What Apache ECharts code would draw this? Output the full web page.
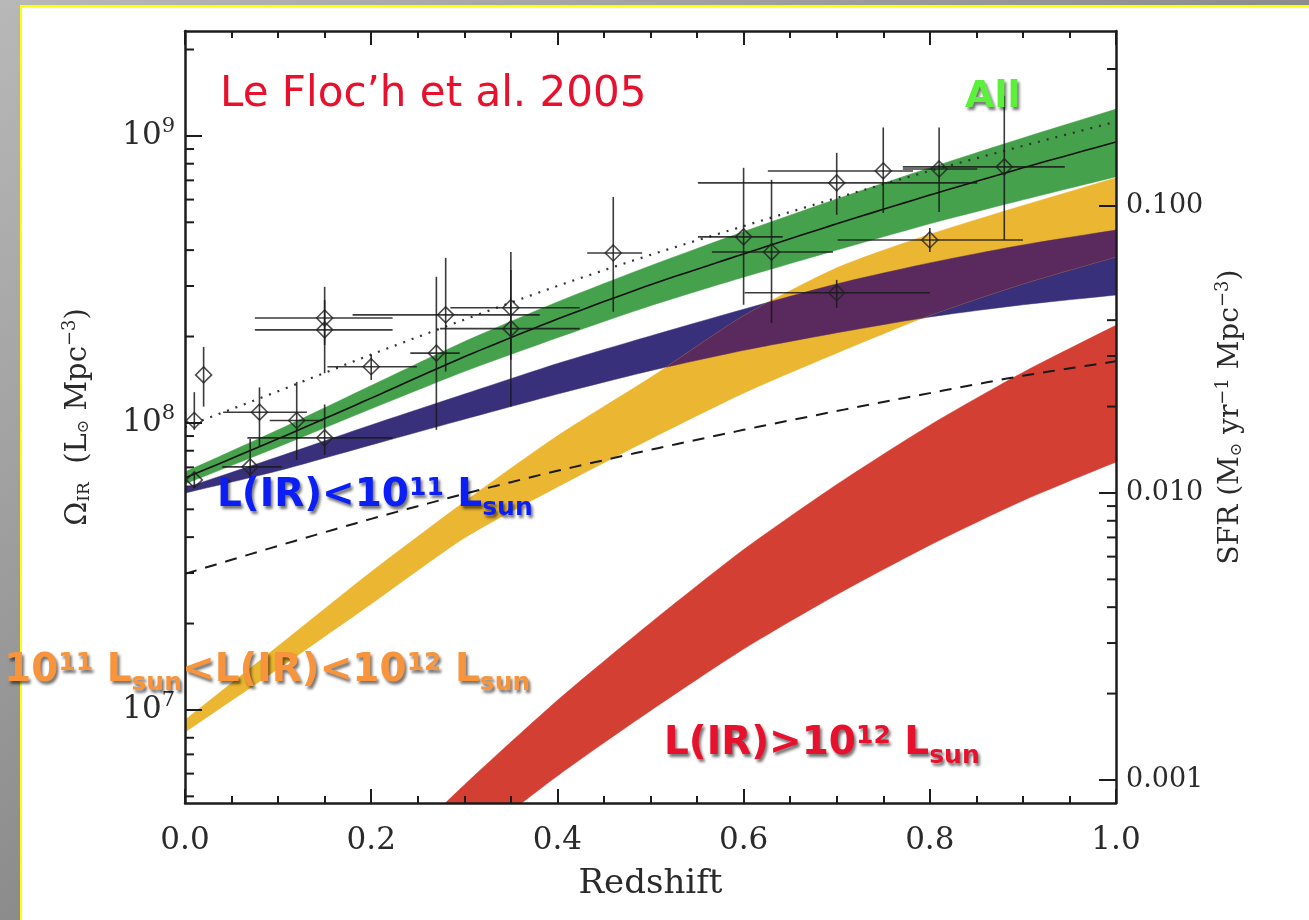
<!DOCTYPE html>
<html>
<head>
<meta charset="utf-8">
<script src="https://cdn.jsdelivr.net/npm/echarts@6/dist/echarts.min.js"></script>
<style>
html,body{margin:0;padding:0;width:1309px;height:920px;overflow:hidden;}
body{background:linear-gradient(to bottom right,#b8b8b8 0%,#8c8c8c 50%,#606060 100%);position:relative;}
#panel{position:absolute;left:20px;top:5px;width:1300px;height:930px;background:#fff;border-left:2px solid #ffff00;border-top:2px solid #ffff00;}
#chart{position:absolute;left:0;top:0;width:1309px;height:920px;}
</style>
</head>
<body>
<div id="panel"></div>
<div id="chart"></div>
<script>
// ---------------- data ----------------
const zGrid = [0, 0.1, 0.2, 0.3, 0.4, 0.5, 0.6, 0.7, 0.8, 0.9, 1.0];
// "All" band and median line
const allLo  = [6.13e7, 8.25e7, 1.12e8, 1.51e8, 1.98e8, 2.56e8, 3.22e8, 4.00e8, 4.94e8, 5.99e8, 7.20e8];
const allHi  = [6.75e7, 9.46e7, 1.35e8, 1.92e8, 2.64e8, 3.53e8, 4.64e8, 6.03e8, 7.74e8, 9.84e8, 1.24e9];
const allMid = [6.43e7, 8.80e7, 1.22e8, 1.70e8, 2.30e8, 3.03e8, 3.88e8, 4.94e8, 6.22e8, 7.74e8, 9.53e8];
const dottedLine = [9.68e7, 1.29e8, 1.73e8, 2.29e8, 3.00e8, 3.85e8, 4.85e8, 6.08e8, 7.55e8, 9.23e8, 1.12e9];
const dashedLine = [2.98e7, 3.73e7, 4.63e7, 5.66e7, 6.81e7, 8.06e7, 9.46e7, 1.10e8, 1.27e8, 1.46e8, 1.64e8];
// L(IR) < 1e11
const lowLo = [5.70e7, 6.81e7, 8.38e7, 1.03e8, 1.26e8, 1.52e8, 1.79e8, 2.06e8, 2.34e8, 2.58e8, 2.79e8];
const lowHi = [5.94e7, 7.62e7, 9.84e7, 1.26e8, 1.61e8, 2.01e8, 2.49e8, 3.05e8, 3.61e8, 4.17e8, 4.70e8];
// 1e11 < L(IR) < 1e12
const lirgLo = [8.37e6, 1.39e7, 2.34e7, 3.97e7, 5.98e7, 8.79e7, 1.27e8, 1.75e8, 2.37e8, 3.05e8, 3.79e8];
const lirgHi = [9.23e6, 1.67e7, 3.03e7, 5.31e7, 9.02e7, 1.44e8, 2.36e8, 3.47e8, 4.54e8, 5.72e8, 7.14e8];
// L(IR) > 1e12
const zRed = [0.2, 0.3, 0.4, 0.5, 0.6, 0.7, 0.8, 0.9, 1.0];
const ulirgLo = [1.79e6, 3.30e6, 5.89e6, 9.94e6, 1.63e7, 2.52e7, 3.75e7, 5.36e7, 7.31e7];
const ulirgHi = [2.66e6, 5.48e6, 1.08e7, 2.01e7, 3.62e7, 6.10e7, 9.82e7, 1.50e8, 2.19e8];
// measurements with error bars
const obsZ   = [0.01, 0.02, 0.01, 0.07, 0.08, 0.12, 0.15, 0.15, 0.15, 0.20, 0.27, 0.28, 0.35, 0.35, 0.46, 0.60, 0.63, 0.70, 0.70, 0.75, 0.80, 0.81, 0.88];
const obsV   = [1.02e8, 1.47e8, 6.33e7, 7.03e7, 1.09e8, 1.02e8, 2.32e8, 2.11e8, 8.87e7, 1.57e8, 1.75e8, 2.38e8, 2.52e8, 2.13e8, 3.91e8, 4.45e8, 3.94e8, 6.86e8, 2.84e8, 7.55e8, 4.34e8, 7.67e8, 7.80e8];
const obsVLo = [9.46e7, 1.14e8, 5.93e7, 5.84e7, 8.25e7, 7.43e7, 1.87e8, 1.49e8, 7.74e7, 1.41e8, 9.46e7, 1.51e8, 1.66e8, 1.14e8, 2.44e8, 2.58e8, 2.23e8, 5.31e8, 2.52e8, 5.39e8, 3.94e8, 5.43e8, 4.34e8];
const obsVHi = [1.28e8, 1.84e8, 6.74e7, 8.79e7, 1.33e8, 1.39e8, 2.98e8, 2.68e8, 1.16e8, 1.73e8, 3.23e8, 3.76e8, 3.94e8, 3.41e8, 6.13e8, 7.74e8, 7.03e8, 8.73e8, 3.15e8, 1.07e9, 4.78e8, 1.07e9, 1.38e9];
const obsZLo = [0.01, 0.02, 0.01, 0.040, 0.041, 0.091, 0.075, 0.075, 0.067, 0.153, 0.242, 0.180, 0.285, 0.274, 0.432, 0.551, 0.566, 0.551, 0.601, 0.626, 0.701, 0.771, 0.771];
const obsZHi = [0.01, 0.02, 0.01, 0.104, 0.131, 0.148, 0.223, 0.223, 0.223, 0.249, 0.295, 0.381, 0.424, 0.424, 0.491, 0.642, 0.696, 0.851, 0.800, 0.782, 0.900, 0.851, 0.945];
// axes
const omegaRange = [4.74e6, 2.32e9];
const sfrPerOmega = 1.754e-10;
const omegaMinorTicks = [5e6, 6e6, 7e6, 8e6, 9e6, 2e7, 3e7, 4e7, 5e7, 6e7, 7e7, 8e7, 9e7, 2e8, 3e8, 4e8, 5e8, 6e8, 7e8, 8e8, 9e8, 2e9];
const sfrMinorTicks = [0.002, 0.003, 0.004, 0.005, 0.006, 0.007, 0.008, 0.009, 0.02, 0.03, 0.04, 0.05, 0.06, 0.07, 0.08, 0.09, 0.2, 0.3];

// ---------------- chart ----------------
const SERIF = '"DejaVu Serif", "Liberation Serif", serif';
const SANS = '"DejaVu Sans", Verdana, sans-serif';
const AXC = '#1c1c1c';
const TXT = '#2a2a2a';
const SUB = 10;       // rendering subdivisions per segment (smooth edges)
const TENSION = 0.7;  // tangent scale of the cardinal spline used for drawing

// smooth curve through pixel points (rendering only; passes through every read point)
function smoothPts(pts) {
  const out = [];
  const n = pts.length;
  for (let i = 0; i < n - 1; i++) {
    const p0 = pts[Math.max(i - 1, 0)], p1 = pts[i], p2 = pts[i + 1], p3 = pts[Math.min(i + 2, n - 1)];
    const m1 = [0, 1].map(j => TENSION * (p2[j] - p0[j]) / 2);
    const m2 = [0, 1].map(j => TENSION * (p3[j] - p1[j]) / 2);
    for (let k = 0; k < SUB; k++) {
      const t = k / SUB, t2 = t * t, t3 = t2 * t;
      const h00 = 2 * t3 - 3 * t2 + 1, h10 = t3 - 2 * t2 + t, h01 = -2 * t3 + 3 * t2, h11 = t3 - t2;
      out.push([0, 1].map(j => h00 * p1[j] + h10 * m1[j] + h01 * p2[j] + h11 * m2[j]));
    }
  }
  out.push(pts[n - 1].slice());
  return out;
}
function bandEdges(api, zs, lo, hi) {
  return {
    up: smoothPts(zs.map((z, i) => api.coord([z, hi[i]]))),
    lo: smoothPts(zs.map((z, i) => api.coord([z, lo[i]])))
  };
}

function bandSeries(name, zs, lo, hi, color, z) {
  return {
    type: 'custom', name, coordinateSystem: 'cartesian2d', xAxisIndex: 0, yAxisIndex: 0,
    clip: true, silent: true, z,
    data: [[zs[0], hi[0]]],
    encode: {x: 0, y: 1},
    renderItem: (params, api) => {
      if (params.dataIndex !== 0) return null;
      const e = bandEdges(api, zs, lo, hi);
      const pts = e.up.concat(e.lo.slice().reverse());
      return {type: 'polygon', shape: {points: pts}, style: {fill: color, stroke: color, lineWidth: 0.5}};
    }
  };
}

// overlap of the two bands (blue & yellow) -> purple
function overlapSeries(color, z) {
  return {
    type: 'custom', name: 'overlap', coordinateSystem: 'cartesian2d', xAxisIndex: 0, yAxisIndex: 0,
    clip: true, silent: true, z,
    data: [[zGrid[0], lowHi[0]]],
    encode: {x: 0, y: 1},
    renderItem: (params, api) => {
      if (params.dataIndex !== 0) return null;
      const A = bandEdges(api, zGrid, lowLo, lowHi);
      const B = bandEdges(api, zGrid, lirgLo, lirgHi);
      const runs = [];
      let cur = null;
      for (let i = 0; i < A.up.length - 1; i++) {
        const x0 = A.up[i][0], x1 = A.up[i + 1][0];
        const L = [
          [A.up[i][1], A.up[i + 1][1]], [A.lo[i][1], A.lo[i + 1][1]],
          [B.up[i][1], B.up[i + 1][1]], [B.lo[i][1], B.lo[i + 1][1]]
        ];
        const yAt = (l, t) => l[0] + (l[1] - l[0]) * t;
        const ts = [0, 1];
        for (let a = 0; a < 4; a++) for (let b = a + 1; b < 4; b++) {
          const d0 = L[a][0] - L[b][0], d1 = L[a][1] - L[b][1];
          if (d0 * d1 < 0) ts.push(d0 / (d0 - d1));
        }
        ts.sort((p, q) => p - q);
        const top = t => Math.max(yAt(L[0], t), yAt(L[2], t));
        const bot = t => Math.min(yAt(L[1], t), yAt(L[3], t));
        for (let k = 0; k < ts.length - 1; k++) {
          const ta = ts[k], tb = ts[k + 1];
          if (tb - ta < 1e-9) continue;
          const tm = (ta + tb) / 2;
          if (top(tm) < bot(tm)) {
            if (!cur) { cur = {up: [], lo: []}; runs.push(cur); }
            const xa = x0 + (x1 - x0) * ta, xb = x0 + (x1 - x0) * tb;
            cur.up.push([xa, top(ta)], [xb, top(tb)]);
            cur.lo.push([xa, bot(ta)], [xb, bot(tb)]);
          } else {
            cur = null;
          }
        }
      }
      return {
        type: 'group',
        children: runs.map(r => ({
          type: 'polygon',
          shape: {points: r.up.concat(r.lo.slice().reverse())},
          style: {fill: color, stroke: color, lineWidth: 0.5}
        }))
      };
    }
  };
}

function minorTickSeries(values, yIdx, side) {
  return {
    type: 'custom', coordinateSystem: 'cartesian2d', xAxisIndex: 0, yAxisIndex: yIdx,
    silent: true, clip: false, z: 1.5,
    data: values.map(v => [side === 'left' ? 0 : 1, v]),
    encode: {x: 0, y: 1},
    renderItem: (params, api) => {
      const p = api.coord([api.value(0), api.value(1)]);
      const len = 9;
      const x2 = side === 'left' ? p[0] + len : p[0] - len;
      return {type: 'line', shape: {x1: p[0], y1: p[1], x2, y2: p[1]}, style: {stroke: AXC, lineWidth: 2}};
    }
  };
}

function curveSeries(name, values, lineStyle) {
  return {
    type: 'custom', name, coordinateSystem: 'cartesian2d', xAxisIndex: 0, yAxisIndex: 0,
    clip: true, silent: true, z: 4,
    data: [[zGrid[0], values[0]]],
    encode: {x: 0, y: 1},
    renderItem: (params, api) => {
      if (params.dataIndex !== 0) return null;
      const pts = smoothPts(zGrid.map((z, i) => api.coord([z, values[i]])));
      return {type: 'polyline', shape: {points: pts}, style: Object.assign({fill: null}, lineStyle)};
    }
  };
}

const errData = obsZ.map((z, i) => [z, obsV[i], obsZLo[i], obsZHi[i], obsVLo[i], obsVHi[i]]);

const isPow10 = v => { const e = Math.log10(v); return Math.abs(e - Math.round(e)) < 1e-6; };

const superRich = {
  sup: {fontSize: 25, fontWeight: 'bold', fontFamily: SANS, padding: [0, 0, 16, 0]},
  sub: {fontSize: 25, fontWeight: 'bold', fontFamily: SANS, padding: [24, 0, 0, 0]}
};
function labelText(x, y, text, color) {
  const rich = {};
  Object.keys(superRich).forEach(k => { rich[k] = Object.assign({fill: color}, superRich[k]); });
  return {
    type: 'text', x, y, z: 100, silent: true,
    style: {
      text, fill: color, font: 'bold 39px ' + SANS, rich, verticalAlign: 'middle',
      textShadowColor: 'rgba(0,0,0,0.55)', textShadowBlur: 3, textShadowOffsetX: 2, textShadowOffsetY: 3
    }
  };
}

const axisLineStyle = {color: AXC, width: 2.5};
const tickStyle = {color: AXC, width: 2};

const option = {
  animation: false,
  backgroundColor: 'transparent',
  grid: {left: 185, right: 193, top: 31, bottom: 117, containLabel: false},
  xAxis: [
    {
      type: 'value', min: 0, max: 1, interval: 0.2, position: 'bottom', z: 10,
      axisLine: {show: true, onZero: false, lineStyle: axisLineStyle},
      axisTick: {show: true, inside: true, length: 14, lineStyle: tickStyle},
      minorTick: {show: true, splitNumber: 4, length: 7, lineStyle: tickStyle},
      splitLine: {show: false}, minorSplitLine: {show: false},
      axisLabel: {formatter: v => v.toFixed(1), fontFamily: SERIF, fontSize: 31, color: TXT, margin: 22},
      name: 'Redshift', nameLocation: 'middle', nameGap: 64,
      nameTextStyle: {fontFamily: SERIF, fontSize: 34, color: TXT}
    },
    {
      type: 'value', min: 0, max: 1, interval: 0.2, position: 'top', z: 10,
      axisLine: {show: true, onZero: false, lineStyle: axisLineStyle},
      axisTick: {show: true, inside: true, length: 14, lineStyle: tickStyle},
      minorTick: {show: true, splitNumber: 4, length: 7, lineStyle: tickStyle},
      splitLine: {show: false}, minorSplitLine: {show: false},
      axisLabel: {show: false}
    }
  ],
  yAxis: [
    {
      type: 'log', logBase: 10, min: omegaRange[0], max: omegaRange[1], position: 'left', z: 10,
      axisLine: {show: true, onZero: false, lineStyle: axisLineStyle},
      axisTick: {show: true, inside: true, length: 17, lineStyle: tickStyle},
      minorTick: {show: false}, splitLine: {show: false}, minorSplitLine: {show: false},
      axisLabel: {
        showMinLabel: false, showMaxLabel: false, margin: 10,
        formatter: v => isPow10(v) ? '{b|10}{sup|' + Math.round(Math.log10(v)) + '}' : '',
        rich: {
          b: {fontFamily: SERIF, fontSize: 31, color: TXT},
          sup: {fontFamily: SERIF, fontSize: 21, color: TXT, padding: [0, 0, 18, 0]}
        }
      },
      name: 'Ω{sub|IR}  (L{sub2|⊙} Mpc{sup|−3})', nameLocation: 'middle', nameRotate: 90, nameGap: 90,
      nameTextStyle: {
        fontFamily: SERIF, fontSize: 29, color: TXT,
        rich: {
          sub: {fontFamily: SERIF, fontSize: 17, color: TXT, padding: [14, 0, 0, 0]},
          sub2: {fontFamily: SERIF, fontSize: 16, color: TXT, padding: [12, 0, 0, 0]},
          sup: {fontFamily: SERIF, fontSize: 18, color: TXT, padding: [0, 0, 16, 0]}
        }
      }
    },
    {
      type: 'log', logBase: 10, min: omegaRange[0] * sfrPerOmega, max: omegaRange[1] * sfrPerOmega, position: 'right', z: 10,
      axisLine: {show: true, onZero: false, lineStyle: axisLineStyle},
      axisTick: {show: true, inside: true, length: 17, lineStyle: tickStyle},
      minorTick: {show: false}, splitLine: {show: false}, minorSplitLine: {show: false},
      axisLabel: {
        showMinLabel: false, showMaxLabel: false, margin: 10,
        formatter: v => isPow10(v) ? v.toFixed(3) : '',
        fontFamily: SERIF, fontSize: 27, color: TXT
      },
      name: 'SFR (M{sub|⊙} yr{sup|−1} Mpc{sup|−3})', nameLocation: 'middle', nameRotate: 90, nameGap: 98,
      nameTextStyle: {
        fontFamily: SERIF, fontSize: 28, color: TXT,
        rich: {
          sub: {fontFamily: SERIF, fontSize: 16, color: TXT, padding: [12, 0, 0, 0]},
          sup: {fontFamily: SERIF, fontSize: 18, color: TXT, padding: [0, 0, 16, 0]}
        }
      }
    }
  ],
  graphic: [
    {type: 'text', x: 220, y: 95, z: 100, silent: true,
     style: {text: 'Le Floc’h et al. 2005', fill: '#e8112d', font: '42px ' + SANS, verticalAlign: 'middle'}},
    {type: 'text', x: 965, y: 97, z: 100, silent: true,
     style: {text: 'All', fill: '#5cf03c', font: 'bold 38px ' + SANS, verticalAlign: 'middle',
             textShadowColor: 'rgba(0,0,0,0.55)', textShadowBlur: 3, textShadowOffsetX: 2, textShadowOffsetY: 3}},
    labelText(217, 496, 'L(IR)<10{sup|11} L{sub|sun}', '#0a1ef5'),
    labelText(4, 671, '10{sup|11} L{sub|sun}<L(IR)<10{sup|12} L{sub|sun}', '#f7943c'),
    labelText(664, 744, 'L(IR)>10{sup|12} L{sub|sun}', '#e8112d')
  ],
  series: [
    bandSeries('L>1e12', zRed, ulirgLo, ulirgHi, '#d43f33', 1),
    minorTickSeries(omegaMinorTicks, 0, 'left'),
    minorTickSeries(sfrMinorTicks, 1, 'right'),
    bandSeries('All', zGrid, allLo, allHi, '#45a14c', 2),
    bandSeries('L<1e11', zGrid, lowLo, lowHi, '#38307a', 2.1),
    bandSeries('1e11<L<1e12', zGrid, lirgLo, lirgHi, '#ebb631', 2.2),
    overlapSeries('#5a2a5e', 2.3),
    curveSeries('median', allMid, {stroke: '#111', lineWidth: 1.6}),
    curveSeries('dotted', dottedLine, {stroke: '#333', lineWidth: 2.2, lineDash: [2, 7]}),
    curveSeries('dashed', dashedLine, {stroke: '#1a1a1a', lineWidth: 2, lineDash: [12, 9]}),
    {
      type: 'custom', name: 'errors', coordinateSystem: 'cartesian2d', z: 5, silent: true, clip: true,
      data: errData, encode: {x: 0, y: 1},
      renderItem: (params, api) => {
        const z = api.value(0), v = api.value(1);
        const a = api.coord([api.value(2), v]), b = api.coord([api.value(3), v]);
        const c = api.coord([z, api.value(4)]), d = api.coord([z, api.value(5)]);
        const st = {stroke: 'rgba(25,25,25,0.85)', lineWidth: 1.6};
        return {type: 'group', children: [
          {type: 'line', shape: {x1: a[0], y1: a[1], x2: b[0], y2: b[1]}, style: st},
          {type: 'line', shape: {x1: c[0], y1: c[1], x2: d[0], y2: d[1]}, style: st}
        ]};
      }
    },
    {type: 'scatter', name: 'data', data: obsZ.map((z, i) => [z, obsV[i]]), symbol: 'diamond', symbolSize: 16, z: 6, silent: true,
     itemStyle: {color: 'rgba(255,255,255,0)', borderColor: '#222', borderWidth: 1.6}}
  ]
};

const chart = echarts.init(document.getElementById('chart'), null, {renderer: 'canvas'});
chart.setOption(option);
</script>
</body>
</html>
